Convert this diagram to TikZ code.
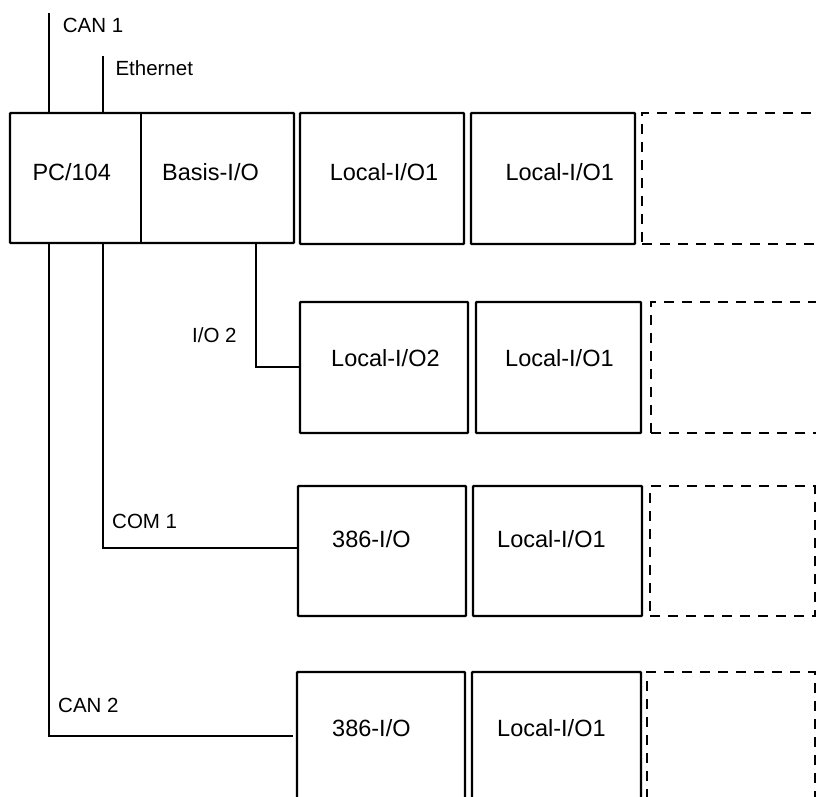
\documentclass[tikz,border=0pt]{standalone}
\usepackage{fontspec}
\setmainfont{Liberation Sans}
\begin{document}
\begin{tikzpicture}[x=1pt,y=-1pt,
  box/.style={draw, line width=2.4pt, rounded corners=0.8pt, inner sep=0pt, outer sep=0pt, anchor=north west},
  dbox/.style={draw, line width=2.8pt, dash pattern=on 10pt off 8pt, inner sep=0pt, outer sep=0pt, anchor=north west},
  conn/.style={line width=1.1pt},
  lbl/.style={font=\fontsize{20.5}{24}\selectfont, anchor=base west, inner sep=0pt},
  btxt/.style={font=\fontsize{23.5}{28}\selectfont, anchor=base west, inner sep=0pt}]
\useasboundingbox (0,0) rectangle (816,796);
\clip (0,0) rectangle (816,796);

% row 1
\node[box, minimum width=284pt, minimum height=130pt] (base) at (10,113) {};
\coordinate (dtop) at (141,113);
\coordinate (dbot) at (141,243);
\draw[conn] (dtop) -- (dbot);
\node[btxt] (tpc) at (32.3,180) {PC/104};
\node[btxt] (tbasis) at (162,180) {Basis-I/O};
\node[box, minimum width=164pt, minimum height=131pt] (L11) at (300,113) {};
\node[btxt] (t11) at (329.6,180) {Local-I/O1};
\node[box, minimum width=164pt, minimum height=131pt] (L12) at (471,113) {};
\node[btxt] (t12) at (505.3,180) {Local-I/O1};
\node[dbox, minimum width=190pt, minimum height=131pt] (D1) at (642,113) {};

% row 2
\node[box, minimum width=168pt, minimum height=131pt] (L21) at (300,302) {};
\node[btxt] (t21) at (331,366.5) {Local-I/O2};
\node[box, minimum width=165pt, minimum height=131pt] (L22) at (476,302) {};
\node[btxt] (t22) at (505,366.5) {Local-I/O1};
\node[dbox, minimum width=180pt, minimum height=131pt] (D2) at (651,302) {};

% row 3
\node[box, minimum width=168pt, minimum height=130pt] (B31) at (298,486) {};
\node[btxt] (t31) at (332,547.3) {386-I/O};
\node[box, minimum width=169pt, minimum height=130pt] (L32) at (473,486) {};
\node[btxt] (t32) at (497,547.3) {Local-I/O1};
\node[dbox, minimum width=165.5pt, minimum height=130pt] (D3) at (650,486) {};

% row 4
\node[box, minimum width=168pt, minimum height=140pt] (B41) at (297,672) {};
\node[btxt] (t41) at (332,736) {386-I/O};
\node[box, minimum width=169pt, minimum height=140pt] (L42) at (472,672) {};
\node[btxt] (t42) at (497,736) {Local-I/O1};
\node[dbox, minimum width=168.5pt, minimum height=140pt] (D4) at (647,672) {};

% connectors
\coordinate (can1top) at (49,13);
\coordinate (can1bot) at (49,113);
\draw[conn] (can1top) -- (can1bot);
\node[lbl] (tcan1) at (62.7,32) {CAN 1};

\coordinate (ethtop) at (103,56);
\coordinate (ethbot) at (103,113);
\draw[conn] (ethtop) -- (ethbot);
\node[lbl] (teth) at (115.3,75) {Ethernet};

\coordinate (io2start) at (256,243);
\draw[conn] (io2start) |- (L21.west |- 0,367);
\node[lbl] (tio2) at (192,342) {I/O 2};

\coordinate (comstart) at (103,243);
\draw[conn] (comstart) |- (B31.west |- 0,548);
\node[lbl] (tcom) at (112,528) {COM 1};

\coordinate (can2start) at (49,243);
\coordinate (can2end) at (293,736);
\draw[conn] (can2start) |- (can2end);
\node[lbl] (tcan2) at (58,712) {CAN 2};
\end{tikzpicture}
\end{document}
